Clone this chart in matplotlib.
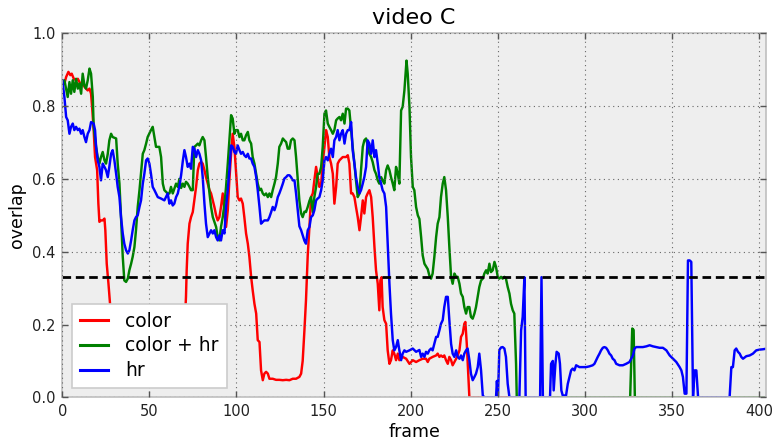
import matplotlib
matplotlib.use("Agg")
import matplotlib.pyplot as plt

# ---------------- data ----------------
title = "video C"
x_label = "frame"
y_label = "overlap"
series_labels = ["color", "color + hr", "hr"]
threshold = 0.33
x_ticks = [0, 50, 100, 150, 200, 250, 300, 350, 400]
y_ticks = [0.0, 0.2, 0.4, 0.6, 0.8, 1.0]
n_frames = 404

red_frames = [0, 1.2, 2.2, 3.5, 4.6, 5.4, 6.6, 7.9, 8.9, 10.8, 11.7, 12.7, 13.6, 14.6, 15.6, 16.5, 17.1,
              18.0, 18.8, 19.4, 20.0, 20.7, 21.3, 22.2, 23.2, 24.2, 24.7, 25.5, 26.5, 27.4, 28.5, 30, 32, 35,
              68, 69.5, 70.1, 71.0, 71.4, 72.0, 73.0, 73.9, 74.9, 75.8, 76.8, 77.8, 78.7, 79.7, 80.6, 81.6,
              82.5, 83.5, 84.5, 85.4, 86.4, 87.3, 88.3, 89.2, 90.2, 91.1, 92.1, 93.1, 94.0, 95.0, 95.9, 96.9,
              97.8, 98.8, 99.7, 100.7, 101.7, 102.6, 103.6, 104.5, 105.5, 106.5, 107.4, 108.4, 109.3, 110.3,
              111.3, 112.2, 113.2, 114.1, 115.1, 116.0, 117.0, 118.0, 118.9, 120.8, 122.7, 124.6, 126.6,
              128.5, 130.4, 132.3, 134.2, 136.1, 137.1, 138.0, 139.0, 139.9, 140.9, 141.9, 142.8, 143.8,
              144.7, 145.7, 146.6, 147.6, 148.6, 149.5, 150.5, 151.4, 152.4, 153.3, 154.3, 155.3, 156.2,
              157.2, 158.1, 159.1, 161.0, 162.9, 163.9, 164.8, 165.8, 166.7, 167.7, 168.6, 169.6, 170.6,
              171.5, 172.5, 173.4, 174.4, 175.3, 176.3, 177.3, 178.2, 179.2, 180.1, 181.1, 182.0, 182.6,
              183.3, 183.9, 184.9, 185.9, 186.8, 187.8, 188.7, 189.7, 190.6, 191.6, 192.6, 193.5, 195.4,
              197.4, 199.3, 201.2, 203.1, 205.0, 206.9, 208.8, 209.8, 210.7, 212.6, 214.6, 215.5, 216.5,
              217.4, 218.4, 219.3, 220.3, 221.3, 222.2, 223.2, 224.1, 225.1, 226.1, 227.0, 228.0, 228.9,
              229.9, 230.8, 231.4, 232.2, 233.1, 233.7, 404]
red_vals = [0.857, 0.862, 0.880, 0.894, 0.885, 0.889, 0.875, 0.871, 0.875, 0.857, 0.866, 0.853, 0.848,
            0.843, 0.848, 0.834, 0.798, 0.734, 0.660, 0.642, 0.624, 0.532, 0.482, 0.486, 0.486, 0.491,
            0.459, 0.367, 0.312, 0.257, 0.200, 0.120, 0.070, 0.050, 0.050, 0.090, 0.180, 0.276, 0.349,
            0.422, 0.477, 0.495, 0.509, 0.541, 0.578, 0.624, 0.642, 0.647, 0.642, 0.624, 0.605, 0.587,
            0.569, 0.560, 0.541, 0.523, 0.500, 0.486, 0.495, 0.523, 0.560, 0.514, 0.468, 0.514, 0.596,
            0.669, 0.724, 0.688, 0.624, 0.550, 0.541, 0.546, 0.532, 0.495, 0.450, 0.422, 0.386, 0.331,
            0.294, 0.257, 0.230, 0.157, 0.152, 0.074, 0.047, 0.065, 0.070, 0.065, 0.051, 0.051, 0.048,
            0.048, 0.047, 0.048, 0.047, 0.051, 0.051, 0.056, 0.065, 0.100, 0.184, 0.267, 0.390, 0.470,
            0.550, 0.560, 0.596, 0.633, 0.605, 0.578, 0.587, 0.642, 0.688, 0.734, 0.715, 0.660, 0.642,
            0.614, 0.532, 0.578, 0.642, 0.651, 0.660, 0.660, 0.665, 0.642, 0.560, 0.560, 0.550, 0.523,
            0.495, 0.459, 0.495, 0.541, 0.505, 0.550, 0.560, 0.569, 0.550, 0.495, 0.413, 0.349, 0.312,
            0.239, 0.321, 0.330, 0.248, 0.212, 0.202, 0.129, 0.092, 0.102, 0.129, 0.120, 0.102, 0.120,
            0.102, 0.111, 0.106, 0.092, 0.102, 0.097, 0.102, 0.106, 0.106, 0.097, 0.106, 0.111, 0.115,
            0.120, 0.111, 0.115, 0.111, 0.115, 0.102, 0.092, 0.111, 0.102, 0.088, 0.097, 0.106, 0.115,
            0.129, 0.166, 0.175, 0.202, 0.207, 0.147, 0.056, 0.0, 0.0]

green_frames = [0, 1.2, 3.1, 4.1, 5.0, 6.0, 6.9, 7.9, 8.9, 9.8, 10.8, 11.7, 12.7, 13.6, 14.6, 15.6, 16.5,
                17.5, 18.0, 19.4, 20.3, 21.3, 22.2, 23.2, 24.2, 25.1, 26.1, 27.0, 28.0, 28.9, 30.9, 31.8,
                32.8, 33.7, 34.7, 35.6, 36.6, 37.6, 38.5, 39.5, 40.4, 41.4, 42.3, 43.3, 44.3, 46.2, 47.1,
                48.1, 49.0, 50.9, 51.9, 52.9, 53.8, 55.7, 56.7, 57.7, 58.6, 60.5, 61.5, 62.4, 63.4, 65.3,
                66.3, 67.2, 68.2, 69.2, 70.1, 71.0, 72.0, 73.0, 73.9, 74.9, 75.8, 76.8, 77.8, 78.7, 79.7,
                80.6, 81.6, 82.5, 83.5, 84.5, 85.4, 86.4, 87.3, 88.3, 89.2, 90.2, 91.1, 92.1, 93.1, 94.0,
                95.0, 95.9, 96.9, 97.8, 98.8, 99.7, 100.7, 101.7, 102.6, 103.6, 104.5, 105.5, 106.5, 107.4,
                108.4, 109.3, 110.3, 111.3, 112.2, 113.2, 114.1, 115.1, 116.0, 117.0, 118.0, 118.9, 119.9,
                120.8, 121.8, 122.7, 123.7, 124.6, 125.6, 126.6, 127.5, 128.5, 129.4, 130.4, 131.3, 132.3,
                133.3, 134.2, 135.2, 136.1, 137.1, 138.0, 139.0, 139.9, 140.9, 141.9, 142.8, 143.8, 144.7,
                145.7, 146.6, 147.6, 148.6, 149.5, 150.5, 151.4, 152.4, 153.3, 154.3, 155.3, 156.2, 157.2,
                158.1, 159.1, 160.0, 161.0, 162.0, 162.9, 163.9, 164.8, 165.8, 166.7, 167.7, 168.6, 169.6,
                170.6, 171.5, 172.5, 173.4, 174.4, 175.3, 176.3, 177.3, 178.2, 179.2, 180.1, 181.1, 182.0,
                183.0, 183.9, 184.9, 185.9, 186.8, 187.8, 188.7, 189.7, 190.6, 191.6, 192.6, 193.5, 194.5,
                195.4, 196.4, 197.6, 198.3, 199.3, 200.2, 201.2, 202.1, 203.1, 204.1, 205.0, 206.0, 206.9,
                207.9, 208.8, 209.8, 210.7, 211.7, 212.6, 213.6, 214.6, 215.5, 216.5, 217.4, 218.4, 219.3,
                220.3, 221.3, 222.2, 223.2, 224.1, 225.1, 226.1, 227.0, 228.0, 228.9, 229.9, 230.8, 231.8,
                232.7, 233.7, 234.6, 235.6, 236.6, 237.5, 238.5, 239.4, 240.4, 241.4, 242.3, 243.3, 244.2,
                245.2, 246.1, 247.1, 248.1, 249.0, 250.0, 250.9, 251.9, 252.8, 253.8, 254.7, 255.7, 256.7,
                257.6, 258.6, 259.5, 260.5, 260.9, 326.0, 327.2, 328.0, 328.7, 404]
green_vals = [0.857, 0.871, 0.825, 0.866, 0.834, 0.871, 0.839, 0.875, 0.848, 0.862, 0.834, 0.889, 0.857,
              0.848, 0.871, 0.903, 0.889, 0.825, 0.743, 0.688, 0.660, 0.642, 0.660, 0.674, 0.651, 0.642,
              0.669, 0.706, 0.724, 0.715, 0.711, 0.642, 0.587, 0.495, 0.386, 0.321, 0.317, 0.326, 0.349,
              0.367, 0.386, 0.413, 0.459, 0.523, 0.569, 0.669, 0.679, 0.697, 0.715, 0.734, 0.743, 0.715,
              0.688, 0.688, 0.660, 0.587, 0.569, 0.560, 0.560, 0.578, 0.560, 0.587, 0.578, 0.600, 0.575,
              0.587, 0.578, 0.592, 0.587, 0.578, 0.569, 0.569, 0.688, 0.692, 0.697, 0.692, 0.706, 0.715,
              0.706, 0.660, 0.605, 0.560, 0.523, 0.495, 0.482, 0.468, 0.440, 0.431, 0.468, 0.495, 0.532,
              0.578, 0.642, 0.706, 0.775, 0.766, 0.724, 0.734, 0.734, 0.715, 0.724, 0.706, 0.706, 0.720,
              0.729, 0.706, 0.697, 0.660, 0.642, 0.614, 0.587, 0.569, 0.573, 0.560, 0.555, 0.560, 0.550,
              0.560, 0.550, 0.569, 0.587, 0.605, 0.642, 0.688, 0.697, 0.711, 0.706, 0.701, 0.683, 0.683,
              0.706, 0.711, 0.706, 0.660, 0.596, 0.540, 0.505, 0.495, 0.510, 0.509, 0.523, 0.540, 0.550,
              0.509, 0.550, 0.578, 0.614, 0.614, 0.633, 0.688, 0.779, 0.788, 0.752, 0.743, 0.734, 0.724,
              0.734, 0.761, 0.766, 0.770, 0.761, 0.779, 0.752, 0.793, 0.793, 0.788, 0.734, 0.688, 0.642,
              0.596, 0.550, 0.560, 0.624, 0.688, 0.706, 0.711, 0.692, 0.669, 0.660, 0.646, 0.624, 0.614,
              0.596, 0.587, 0.605, 0.596, 0.587, 0.624, 0.637, 0.624, 0.605, 0.587, 0.569, 0.633, 0.614,
              0.587, 0.788, 0.798, 0.843, 0.925, 0.889, 0.798, 0.660, 0.578, 0.569, 0.523, 0.500, 0.490,
              0.440, 0.390, 0.367, 0.360, 0.352, 0.335, 0.326, 0.340, 0.386, 0.440, 0.477, 0.495, 0.550,
              0.587, 0.605, 0.569, 0.495, 0.413, 0.331, 0.312, 0.340, 0.331, 0.331, 0.312, 0.285, 0.276,
              0.248, 0.230, 0.248, 0.248, 0.221, 0.216, 0.230, 0.248, 0.276, 0.303, 0.321, 0.326, 0.340,
              0.349, 0.340, 0.367, 0.344, 0.349, 0.372, 0.358, 0.331, 0.326, 0.331, 0.326, 0.331, 0.326,
              0.303, 0.285, 0.257, 0.239, 0.230, 0.092, 0.0, 0.0, 0.189, 0.185, 0.0, 0.0]

blue_frames = [0, 1.2, 2.2, 3.1, 4.1, 5.0, 6.0, 6.9, 7.9, 8.9, 9.8, 10.8, 11.7, 12.7, 13.6, 14.6, 15.6,
               16.5, 18.0, 18.8, 19.4, 20.3, 21.3, 22.2, 23.2, 24.2, 25.1, 26.1, 27.0, 28.0, 28.9, 29.9,
               30.9, 31.8, 32.8, 33.7, 34.7, 35.6, 36.6, 37.6, 38.5, 39.5, 40.4, 41.4, 42.3, 43.3, 44.3,
               45.2, 46.2, 47.1, 48.1, 49.0, 50.0, 50.9, 51.9, 52.9, 54.8, 56.7, 58.6, 60.5, 61.5, 62.4,
               63.4, 64.3, 65.3, 66.3, 67.2, 68.2, 69.2, 70.1, 71.0, 72.0, 73.0, 73.9, 74.9, 75.8, 76.8,
               77.8, 78.7, 79.7, 80.6, 81.6, 82.5, 83.5, 84.5, 85.4, 86.4, 87.3, 88.3, 89.2, 90.2, 91.1,
               92.1, 93.1, 94.0, 95.0, 95.9, 96.9, 97.8, 98.8, 99.7, 100.7, 101.7, 102.6, 103.6, 104.5,
               105.5, 106.5, 107.4, 108.4, 109.3, 110.3, 111.3, 112.2, 113.2, 114.1, 115.1, 116.0, 117.0,
               118.0, 118.9, 119.9, 120.8, 121.8, 122.7, 123.7, 124.6, 125.6, 126.6, 127.5, 128.5, 129.4,
               130.4, 131.3, 132.3, 133.3, 134.2, 135.2, 136.1, 137.1, 138.0, 139.0, 139.9, 140.9, 141.9,
               142.8, 143.8, 144.7, 145.7, 146.6, 147.6, 148.6, 149.5, 150.5, 151.4, 152.4, 153.3, 154.3,
               155.3, 156.2, 157.2, 158.1, 159.1, 160.0, 161.0, 162.0, 162.9, 163.9, 164.8, 165.8, 166.7,
               167.7, 168.6, 169.6, 170.6, 171.5, 172.5, 173.4, 174.4, 175.3, 176.3, 177.3, 178.2, 179.2,
               180.1, 181.1, 182.0, 183.0, 183.9, 184.9, 185.9, 186.8, 187.8, 188.7, 189.7, 190.6, 191.6,
               192.6, 193.5, 194.5, 195.4, 196.4, 197.4, 199.3, 201.2, 203.1, 205.0, 206.0, 206.9, 207.9,
               208.8, 209.8, 210.7, 211.7, 212.6, 213.6, 214.6, 215.5, 216.5, 217.4, 218.4, 219.3, 220.3,
               221.3, 222.2, 223.2, 224.1, 225.1, 226.1, 227.0, 228.0, 228.9, 229.9, 230.8, 231.8, 232.7,
               233.7, 234.6, 235.6, 236.6, 237.5, 238.5, 239.4, 240.4, 241.4, 242.3, 249.0, 249.5, 250.1,
               250.9, 251.9, 252.8, 253.8, 254.7, 255.7, 256.7, 262.4, 263.4, 264.3, 265.3, 266.0, 274.3,
               275.1, 275.9, 280.0, 280.6, 281.6, 282.1, 283.1, 283.8, 285.0, 285.7, 286.5, 287.3, 289.2,
               290.2, 292.1, 293.0, 294.0, 295.0, 296.9, 298.8, 300.7, 302.6, 304.5, 305.5, 306.5, 307.4,
               308.4, 309.3, 310.3, 311.2, 312.2, 313.2, 314.1, 315.1, 316.0, 317.0, 318.0, 319.9, 321.8,
               323.7, 325.6, 327.6, 328.5, 329.5, 331.4, 333.3, 335.3, 337.2, 339.1, 341.0, 342.9, 344.8,
               346.8, 348.7, 350.6, 352.5, 354.4, 355.4, 356.3, 357.3, 358.3, 359.2, 360.2, 361.1, 362.1,
               363.0, 364.0, 365.0, 383.1, 384.1, 385.0, 386.0, 386.9, 387.9, 388.9, 389.8, 390.8, 392.7,
               394.6, 396.5, 398.4, 400.3, 402.3, 403.5]
blue_vals = [0.871, 0.825, 0.770, 0.761, 0.724, 0.743, 0.752, 0.734, 0.743, 0.734, 0.738, 0.724, 0.734,
             0.715, 0.701, 0.724, 0.734, 0.756, 0.752, 0.734, 0.688, 0.651, 0.633, 0.596, 0.642, 0.633,
             0.624, 0.605, 0.633, 0.669, 0.679, 0.651, 0.614, 0.578, 0.550, 0.495, 0.450, 0.422, 0.404,
             0.395, 0.404, 0.431, 0.459, 0.486, 0.495, 0.500, 0.523, 0.541, 0.587, 0.614, 0.651, 0.656,
             0.642, 0.614, 0.578, 0.569, 0.550, 0.546, 0.541, 0.560, 0.532, 0.541, 0.527, 0.532, 0.550,
             0.560, 0.580, 0.610, 0.650, 0.679, 0.660, 0.633, 0.642, 0.628, 0.688, 0.683, 0.660, 0.679,
             0.669, 0.651, 0.605, 0.532, 0.477, 0.440, 0.450, 0.459, 0.450, 0.459, 0.440, 0.431, 0.445,
             0.431, 0.459, 0.450, 0.523, 0.569, 0.624, 0.692, 0.688, 0.674, 0.669, 0.692, 0.679, 0.669,
             0.674, 0.665, 0.660, 0.669, 0.656, 0.656, 0.642, 0.633, 0.605, 0.569, 0.523, 0.477, 0.482,
             0.486, 0.486, 0.486, 0.495, 0.509, 0.523, 0.514, 0.527, 0.550, 0.560, 0.573, 0.587, 0.601,
             0.605, 0.610, 0.610, 0.605, 0.596, 0.596, 0.560, 0.514, 0.470, 0.459, 0.445, 0.430, 0.422,
             0.459, 0.468, 0.495, 0.500, 0.514, 0.541, 0.546, 0.550, 0.569, 0.596, 0.651, 0.660, 0.651,
             0.669, 0.683, 0.660, 0.706, 0.715, 0.734, 0.706, 0.724, 0.734, 0.697, 0.724, 0.734, 0.734,
             0.756, 0.679, 0.642, 0.605, 0.578, 0.560, 0.569, 0.587, 0.605, 0.633, 0.706, 0.697, 0.669,
             0.706, 0.660, 0.679, 0.642, 0.605, 0.587, 0.569, 0.560, 0.523, 0.422, 0.312, 0.230, 0.157,
             0.129, 0.138, 0.157, 0.129, 0.102, 0.120, 0.129, 0.125, 0.129, 0.134, 0.125, 0.130, 0.111,
             0.120, 0.111, 0.125, 0.120, 0.129, 0.134, 0.129, 0.147, 0.166, 0.166, 0.184, 0.202, 0.212,
             0.248, 0.276, 0.276, 0.212, 0.147, 0.120, 0.111, 0.129, 0.111, 0.106, 0.115, 0.102, 0.120,
             0.129, 0.134, 0.102, 0.065, 0.047, 0.056, 0.065, 0.083, 0.120, 0.074, 0.005, 0.0, 0.0,
             0.045, 0.0, 0.130, 0.137, 0.138, 0.134, 0.111, 0.037, 0.0, 0.0, 0.184, 0.221, 0.330, 0.0,
             0.0, 0.330, 0.0, 0.0, 0.092, 0.100, 0.019, 0.092, 0.125, 0.120, 0.092, 0.019, 0.005, 0.005,
             0.037, 0.074, 0.079, 0.074, 0.088, 0.083, 0.083, 0.083, 0.085, 0.088, 0.092, 0.102, 0.111,
             0.120, 0.129, 0.136, 0.138, 0.136, 0.129, 0.120, 0.115, 0.106, 0.102, 0.092, 0.088, 0.088,
             0.092, 0.097, 0.115, 0.134, 0.138, 0.138, 0.138, 0.140, 0.143, 0.140, 0.138, 0.136, 0.136,
             0.129, 0.115, 0.106, 0.097, 0.083, 0.074, 0.056, 0.010, 0.010, 0.376, 0.376, 0.372, 0.0,
             0.074, 0.074, 0.0, 0.0, 0.083, 0.083, 0.129, 0.134, 0.125, 0.120, 0.111, 0.106, 0.113,
             0.115, 0.120, 0.129, 0.131, 0.132, 0.133]

# ---------------- figure ----------------
plt.rcParams['font.family'] = ['DejaVu Sans']
fig = plt.figure(figsize=(7.75, 4.42), dpi=100)
ax = fig.add_axes([0.0804, 0.1011, 0.9080, 0.8236])
ax.set_facecolor('#eeeeee')

ax.plot(red_frames, red_vals, color='#ff0000', lw=1.75, label=series_labels[0])
ax.plot(green_frames, green_vals, color='#008000', lw=1.75, label=series_labels[1])
ax.plot(blue_frames, blue_vals, color='#0000ff', lw=1.75, label=series_labels[2])
ax.axhline(threshold, color='black', lw=2, linestyle=(0, (3.1, 1.7)))

ax.set_xlim(0, n_frames)
ax.set_ylim(0, 1)
ax.set_xticks(x_ticks)
ax.set_yticks(y_ticks)
ax.set_yticklabels([f"{v:.1f}" for v in y_ticks])

for s in ax.spines.values():
    s.set_color('#bfbfbf')
    s.set_linewidth(1.2)

ax.tick_params(direction='in', length=4, width=1, color='#555555',
               top=True, right=True, labelsize=10.5, pad=5, labelcolor='#222222')
ax.grid(True, linestyle=(0, (1, 3.2)), color='#666666', linewidth=0.8)
ax.set_axisbelow(False)

ax.set_title(title, fontsize=16, pad=7)
ax.set_xlabel(x_label, fontsize=12.5, labelpad=3)
ax.set_ylabel(y_label, fontsize=12.5, labelpad=4)

leg = ax.legend(loc='lower left', fontsize=13.5, fancybox=False, framealpha=1,
                edgecolor='#cccccc', handlelength=1.5, handletextpad=0.95,
                labelspacing=0.3, borderpad=0.42, borderaxespad=0.5)
leg.get_frame().set_linewidth(1.2)
for h in leg.get_lines():
    h.set_linewidth(2.2)

fig.savefig('out.png', dpi=100)
